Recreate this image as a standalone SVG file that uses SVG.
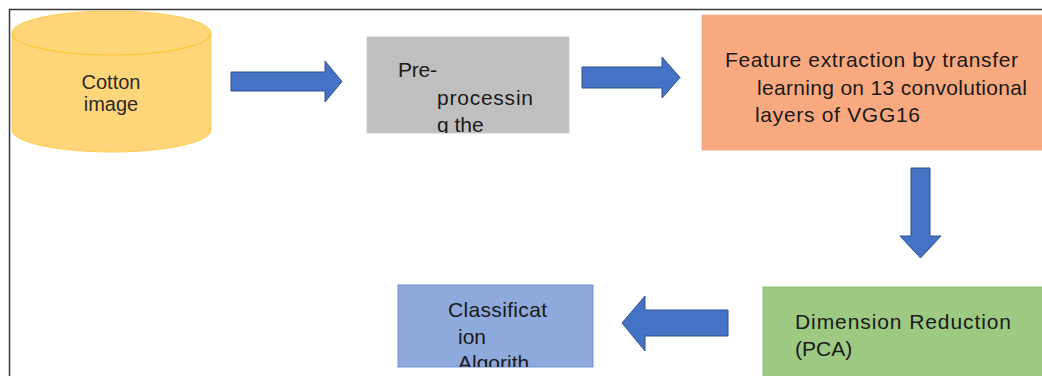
<svg xmlns="http://www.w3.org/2000/svg" width="1042" height="376" viewBox="0 0 1042 376">
<style>
  .t { font-family: "Liberation Sans", Arial, sans-serif; font-size: 21px; fill: #1a1a1a; }
  .tc { font-family: "Liberation Sans", Arial, sans-serif; font-size: 20px; fill: #2a2a2a; text-anchor: middle; }
  .arrow { fill: #4472C4; stroke: #2F528F; stroke-width: 1; }
  .frame { stroke: #3a3a3a; stroke-width: 1.5; fill: none; }
</style>
<defs>
  <clipPath id="clipGray"><rect x="367" y="37" width="202" height="96"/></clipPath>
  <clipPath id="clipBlue"><rect x="398" y="285" width="195" height="82"/></clipPath>
</defs>
<rect width="1042" height="376" fill="#ffffff"/>
<path class="frame" d="M9.5,376 L9.5,9.5 L1042,9.5"/>

<g id="cotton-image">
  <path d="M12,33 L12,130 A99.5,22 0 0 0 211,130 L211,33 A99.5,22 0 0 0 12,33 Z" fill="#FFD57A" stroke="#FFCC4D" stroke-width="1"/>
  <path d="M12,33 A99.5,22 0 0 0 211,33" fill="none" stroke="#FFC633" stroke-width="1.2"/>
  <text class="tc" x="111" y="89">Cotton</text>
  <text class="tc" x="111" y="111">image</text>
</g>

<g id="preprocessing">
  <rect x="367" y="37" width="202" height="96" fill="#BFBFBF" stroke="#C9C9C9" stroke-width="1"/>
  <g clip-path="url(#clipGray)">
    <text class="t" x="398" y="77" textLength="39">Pre-</text>
    <text class="t" x="437" y="105" textLength="96">processin</text>
    <text class="t" x="437" y="132">g the</text>
  </g>
</g>

<g id="feature-extraction">
  <rect x="702" y="15" width="345" height="135" fill="#F8A97F" stroke="#F2B08F" stroke-width="1"/>
  <text class="t" x="725" y="67" textLength="293">Feature extraction by transfer</text>
  <text class="t" x="757" y="95" textLength="270">learning on 13 convolutional</text>
  <text class="t" x="755" y="122" textLength="165">layers of VGG16</text>
</g>

<g id="dimension-reduction">
  <rect x="763" y="287" width="290" height="100" fill="#9DC983" stroke="#8DBF72" stroke-width="1"/>
  <text class="t" x="795" y="329" textLength="216">Dimension Reduction</text>
  <text class="t" x="795" y="356">(PCA)</text>
</g>

<g id="classification">
  <rect x="398" y="285" width="195" height="82" fill="#8EA9DB" stroke="#7291D3" stroke-width="1"/>
  <g clip-path="url(#clipBlue)">
    <text class="t" x="448" y="317" textLength="99">Classificat</text>
    <text class="t" x="458" y="344">ion</text>
    <text class="t" x="458" y="370">Algorith</text>
  </g>
</g>

<g id="connectors">
  <path class="arrow" d="M231,72 L325,72 L325,61 L342,81.5 L325,102 L325,91 L231,91 Z"/>
  <path class="arrow" d="M582,67 L662,67 L662,57 L680,77.5 L662,98 L662,88 L582,88 Z"/>
  <path class="arrow" d="M911,168 L930,168 L930,236 L941,236 L920.5,258 L900,236 L911,236 Z"/>
  <path class="arrow" d="M728,310 L645,310 L645,296 L622,323 L645,351 L645,336 L728,336 Z"/>
</g>
</svg>
